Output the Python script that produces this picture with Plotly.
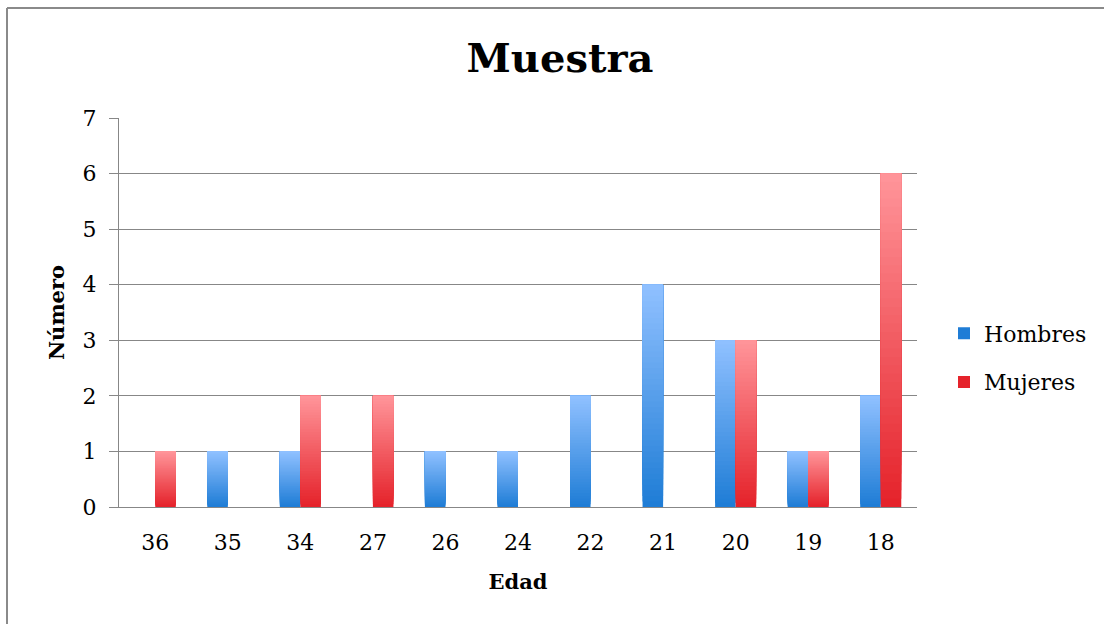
import plotly.graph_objects as go

# ---- data ----
edades = ["36", "35", "34", "27", "26", "24", "22", "21", "20", "19", "18"]
hombres = [0, 1, 1, 0, 1, 1, 2, 4, 3, 1, 2]
mujeres = [1, 0, 2, 2, 0, 0, 0, 0, 3, 1, 6]

# ---- style ----
N_SLICES = 40
BLUE_BOTTOM, BLUE_TOP = (31, 125, 214), (143, 192, 255)
RED_BOTTOM, RED_TOP = (229, 35, 43), (255, 148, 153)
GRID = "#878787"
FONT = "DejaVu Serif"
BAR_W = 0.283

W, H = 1104, 624
ML, MR, MT, MB = 119, 187, 118, 117
PW, PH = W - ML - MR, H - MT - MB


def lerp(c0, c1, t):
    return "rgb(%d,%d,%d)" % tuple(round(a + (b - a) * t) for a, b in zip(c0, c1))


def gradient_trace(name, values, c_bottom, c_top, offset, group):
    xs, bases, heights, colors = [], [], [], []
    for k in range(N_SLICES):
        t = k / (N_SLICES - 1)
        col = lerp(c_bottom, c_top, t)
        for cat, v in zip(edades, values):
            xs.append(cat)
            bases.append(v * k / N_SLICES)
            heights.append(v - v * k / N_SLICES)
            colors.append(col)
    return go.Bar(
        name=name, x=xs, y=heights, base=bases,
        marker=dict(color=colors, line=dict(width=0)),
        width=BAR_W, offset=offset, legendgroup=group,
        hoverinfo="skip",
    )


fig = go.Figure()
fig.add_trace(gradient_trace("Hombres", hombres, BLUE_BOTTOM, BLUE_TOP, -BAR_W, "h"))
fig.add_trace(gradient_trace("Mujeres", mujeres, RED_BOTTOM, RED_TOP, 0, "m"))


def px_x(p):
    return (p - ML) / PW


def px_y(p):
    return 1 - (p - MT) / PH


fig.update_layout(
    width=W, height=H,
    margin=dict(l=ML, r=MR, t=MT, b=MB, autoexpand=False),
    paper_bgcolor="white", plot_bgcolor="white",
    barmode="overlay",
    font=dict(family=FONT, size=22, color="#000000"),
    title=dict(text="<b>Muestra</b>", x=560 / W, xanchor="center",
               y=1 - 58 / H, yanchor="middle", yref="container",
               font=dict(family=FONT, size=40, color="#000000")),
    xaxis=dict(type="category", categoryorder="array", categoryarray=edades,
               showgrid=False, showline=True, linecolor=GRID, linewidth=1,
               ticks="", ticklabelstandoff=16, zeroline=False,
               tickfont=dict(family=FONT, size=22, color="#000000"),
               title=dict(text="<b>Edad</b>", standoff=19,
                          font=dict(family=FONT, size=21, color="#000000"))),
    yaxis=dict(range=[0, 7], dtick=1, tick0=0, showgrid=True, gridcolor=GRID,
               gridwidth=1, showline=True, linecolor=GRID, linewidth=1,
               ticks="outside", ticklen=9, tickcolor=GRID, tickwidth=1,
               ticklabelstandoff=8, zeroline=False,
               tickfont=dict(family=FONT, size=22, color="#000000"),
               title=dict(text="<b>Número</b>", standoff=12,
                          font=dict(family=FONT, size=21, color="#000000"))),
    legend=dict(x=px_x(944), xanchor="left", y=px_y(358), yanchor="middle",
                traceorder="grouped", tracegroupgap=17,
                font=dict(family=FONT, size=22, color="#000000"),
                bgcolor="rgba(0,0,0,0)"),
    showlegend=True,
    shapes=[
        dict(type="line", xref="paper", yref="paper",
             x0=px_x(7), x1=px_x(W), y0=px_y(8), y1=px_y(8),
             line=dict(color="#8a8a8a", width=2)),
        dict(type="line", xref="paper", yref="paper",
             x0=px_x(7), x1=px_x(7), y0=px_y(8), y1=px_y(H),
             line=dict(color="#8a8a8a", width=2)),
    ],
)

fig.write_html("out.html")
